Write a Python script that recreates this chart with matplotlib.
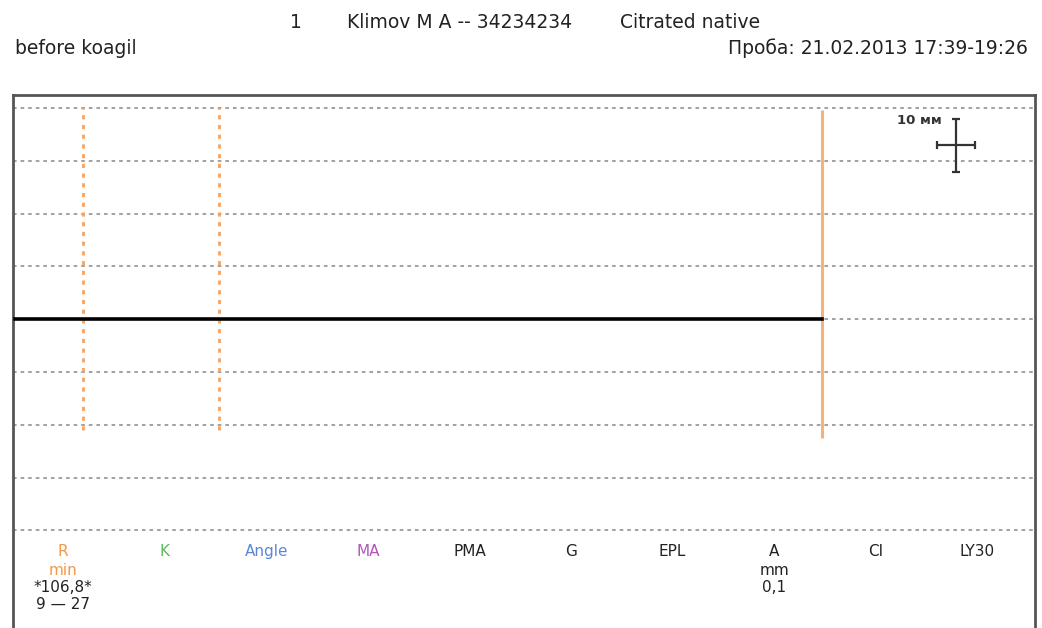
import numpy as np
import matplotlib.pyplot as plt

# данные
trace_time = [0.0, 106.8]          # мин
trace_amp = [0.05, 0.05]           # мм (A = 0,1)
grid_levels = [40, 30, 20, 10, 0, -10, -20, -30, -40]   # мм
r_norm = [9, 27]                   # норма R, мин
r_value = 106.8                    # R, мин
params = ['R', 'K', 'Angle', 'MA', 'PMA', 'G', 'EPL', 'A', 'CI', 'LY30']
param_colors = ['#f79646', '#5cb85c', '#5b87d6', '#b455b8', '#222222',
                '#222222', '#222222', '#222222', '#222222', '#222222']
param_units = {'R': 'min', 'A': 'mm'}
param_values = {'R': '*106,8*', 'A': '0,1'}
param_ranges = {'R': '9 \u2014 27'}

scale_center = (124.5, 33.0)       # крестик масштаба
scale_half = (2.5, 5.0)            # 10 мм по вертикали

fig = plt.figure(figsize=(10.42, 6.28), dpi=100)
ax = fig.add_axes([13 / 1042, -12 / 628, 1022 / 1042, (640 - 95) / 628])
ax.set_xlim(-0.3, 135.0)
ax.set_ylim(-60.8, 42.5)
ax.set_xticks([])
ax.set_yticks([])
for s in ['left', 'right', 'top']:
    ax.spines[s].set_color('#555555')
    ax.spines[s].set_linewidth(2)
ax.spines['bottom'].set_visible(False)

# сетка
for lv in grid_levels:
    ax.axhline(lv, color='#9a9a9a', lw=1.3, ls=(0, (2, 2.2)), zorder=1)

# норма R и само R
for t in r_norm:
    ax.vlines(t, -21, 40, color='#f9a25e', lw=2, ls=(0, (1.5, 2.0)), zorder=2)
ax.vlines(r_value, -22.5, 39.6, color='#f7b27a', lw=2.2, zorder=2)

# кривая
ax.plot(trace_time, trace_amp, color='black', lw=2.6, zorder=3)

# масштаб
ax.errorbar(scale_center[0], scale_center[1], xerr=scale_half[0], yerr=scale_half[1],
            color='#333333', lw=1.6, capsize=3, capthick=1.6)
ax.text(scale_center[0] - 1.9, scale_center[1] + 4.6, '10 мм', ha='right', va='center',
        fontsize=9.5, fontweight='bold', color='#333333')

# подписи параметров
lab = dict(transform=ax.transAxes, ha='center', va='center', fontsize=11,
           family='DejaVu Sans Condensed')
for i, p in enumerate(params):
    x = 0.049 + i * 0.0994
    ax.text(x, 0.163, p, color=param_colors[i], **lab)
    if p in param_units:
        ax.text(x, 0.128, param_units[p], color=param_colors[i] if p == 'R' else '#222222', **lab)
    if p in param_values:
        ax.text(x, 0.097, param_values[p], color='#222222', **lab)
    if p in param_ranges:
        ax.text(x, 0.066, param_ranges[p], color='#222222', **lab)

# шапка
hdr = dict(fontsize=13.5, color='#222222', family='DejaVu Sans Condensed', va='center')
fig.text(296 / 1042, 1 - 22 / 628, '1', ha='center', **hdr)
fig.text(347 / 1042, 1 - 22 / 628, 'Klimov M A -- 34234234', ha='left', **hdr)
fig.text(620 / 1042, 1 - 22 / 628, 'Citrated native', ha='left', **hdr)
fig.text(15 / 1042, 1 - 48 / 628, 'before koagil', ha='left', **hdr)
fig.text(1028 / 1042, 1 - 48 / 628, 'Проба: 21.02.2013 17:39-19:26', ha='right', **hdr)

fig.savefig('out.png', dpi=100)
